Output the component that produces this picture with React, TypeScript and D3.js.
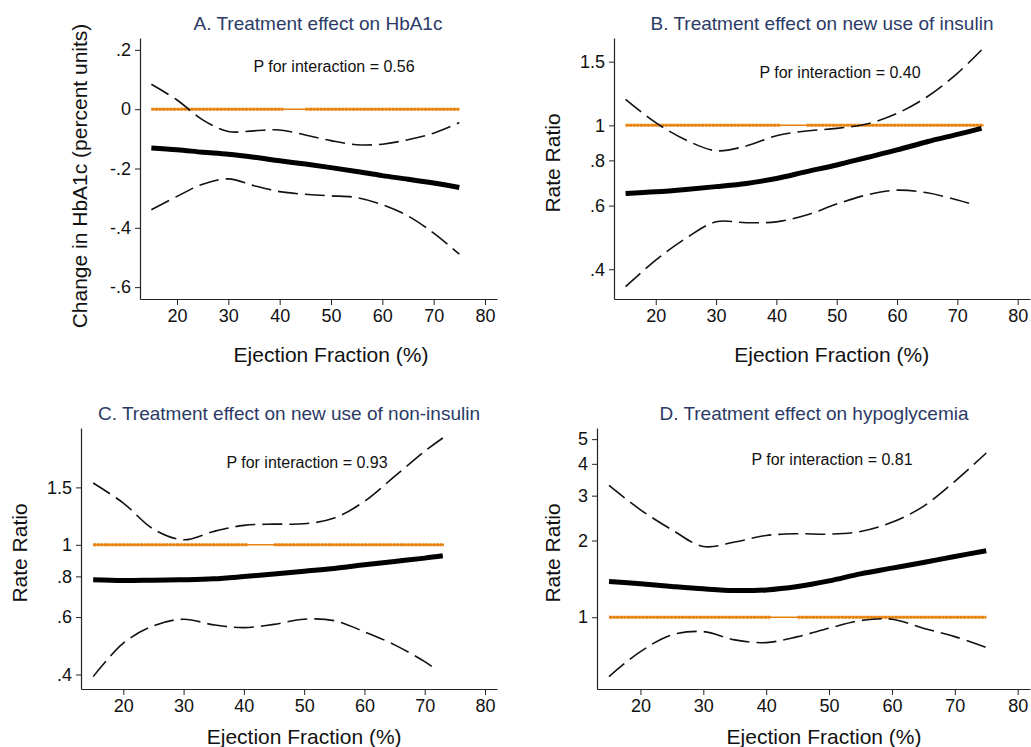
import { useEffect, useRef } from "react";
import * as d3 from "d3";

// ejection fraction grid used for the fitted curves
const efA = [15, 20, 25, 30, 35, 40, 45, 50, 55, 60, 65, 70, 75];
const estA = [-0.131, -0.137, -0.145, -0.152, -0.162, -0.174, -0.185, -0.197, -0.21, -0.224, -0.236, -0.249, -0.264];
const upA = [0.084, 0.031, -0.036, -0.075, -0.073, -0.07, -0.087, -0.106, -0.12, -0.118, -0.103, -0.081, -0.045];
const loA = [-0.339, -0.294, -0.253, -0.235, -0.258, -0.278, -0.287, -0.292, -0.298, -0.322, -0.36, -0.418, -0.489];

const efB = [15, 20, 25, 30, 35, 40, 45, 50, 55, 60, 65, 70, 74];
const efBlo = [15, 20, 25, 30, 35, 40, 45, 50, 55, 60, 65, 70, 73];
const estB = [0.648, 0.655, 0.665, 0.677, 0.691, 0.713, 0.745, 0.777, 0.815, 0.855, 0.901, 0.944, 0.981];
const upB = [1.18, 1.017, 0.911, 0.851, 0.877, 0.936, 0.965, 0.981, 1.009, 1.079, 1.2, 1.393, 1.616];
const loB = [0.358, 0.424, 0.487, 0.541, 0.538, 0.541, 0.565, 0.606, 0.642, 0.662, 0.651, 0.622, 0.602];

const efC = [15, 20, 25, 30, 35, 40, 45, 50, 55, 60, 65, 70, 73];
const efClo = [15, 20, 25, 30, 35, 40, 45, 50, 55, 60, 65, 70, 72];
const estC = [0.781, 0.777, 0.779, 0.781, 0.786, 0.799, 0.814, 0.83, 0.846, 0.868, 0.889, 0.91, 0.925];
const upC = [1.547, 1.343, 1.117, 1.036, 1.099, 1.147, 1.157, 1.16, 1.208, 1.359, 1.621, 1.936, 2.126];
const loC = [0.394, 0.499, 0.564, 0.591, 0.568, 0.557, 0.57, 0.591, 0.585, 0.541, 0.493, 0.438, 0.413];

const efD = [15, 20, 25, 30, 35, 40, 45, 50, 55, 60, 65, 70, 75];
const estD = [1.381, 1.352, 1.32, 1.292, 1.273, 1.28, 1.32, 1.389, 1.48, 1.558, 1.64, 1.731, 1.823];
const upD = [3.29, 2.64, 2.205, 1.896, 1.972, 2.094, 2.126, 2.119, 2.171, 2.357, 2.724, 3.414, 4.41];
const loD = [0.585, 0.733, 0.852, 0.878, 0.815, 0.795, 0.839, 0.905, 0.97, 0.982, 0.905, 0.839, 0.76];

const titles = [
  "A. Treatment effect on HbA1c",
  "B. Treatment effect on new use of insulin",
  "C. Treatment effect on new use of non-insulin",
  "D. Treatment effect on hypoglycemia",
];
const pValues = ["0.56", "0.40", "0.93", "0.81"];
const yTitles = ["Change in HbA1c (percent units)", "Rate Ratio", "Rate Ratio", "Rate Ratio"];
const xTicks = [20, 30, 40, 50, 60, 70, 80];
const yTicksA = [-0.6, -0.4, -0.2, 0, 0.2];
const yTicksRR = [0.4, 0.6, 0.8, 1, 1.5];
const yTicksD = [1, 2, 3, 4, 5];
const refValues = [0, 1, 1, 1];
const refEnd = [75, 74.3, 73.2, 75];
const refGap = [40.7, 45];

const W = 1031;
const H = 747;
const TITLE_COL = "#2b3a66";
const ORANGE = "#e8820c";

const stataFmt = (v: number) => (v === 0 ? "0" : String(v).replace("0.", "."));

export default function App() {
  const ref = useRef<SVGSVGElement>(null);

  useEffect(() => {
    if (!ref.current) return;
    const svg = d3.select(ref.current);
    svg.selectAll("*").remove();

    const panels = [
      { box: [140, 38, 497, 299], xd: [12.79, 82.34], yd: [-0.64, 0.24], log: false, yt: yTicksA,
        ef: [efA, efA, efA], est: estA, up: upA, lo: loA, ytx: 80, yty: 176, ttl: [318, 23], p: [334, 66] },
      { box: [614, 38, 1030, 299], xd: [13.08, 82.04], yd: [0.331, 1.744], log: true, yt: yTicksRR,
        ef: [efB, efB, efBlo], est: estB, up: upB, lo: loB, ytx: 553, yty: 163, ttl: [822, 23], p: [840, 72] },
      { box: [81, 428, 497, 689], xd: [12.98, 81.99], yd: [0.361, 2.282], log: true, yt: yTicksRR,
        ef: [efC, efC, efClo], est: estC, up: upC, lo: loC, ytx: 20, yty: 553, ttl: [289, 413], p: [307, 462] },
      { box: [597, 428, 1030, 689], xd: [13.09, 81.96], yd: [0.5226, 5.53], log: true, yt: yTicksD,
        ef: [efD, efD, efD], est: estD, up: upD, lo: loD, ytx: 553, yty: 553, ttl: [814, 413], p: [832, 459] },
    ];

    panels.forEach((pn, i) => {
      const [x0, y0, x1, y1] = pn.box;
      const x = d3.scaleLinear().domain(pn.xd).range([x0, x1]);
      const y = (pn.log ? d3.scaleLog() : d3.scaleLinear()).domain(pn.yd).range([y1, y0]);
      const g = svg.append("g");

      // axes
      const xa = g.append("g")
        .attr("transform", `translate(0,${y1})`)
        .call(d3.axisBottom(x).tickValues(xTicks).tickSize(6).tickPadding(4).tickSizeOuter(0));
      const ya = g.append("g")
        .attr("transform", `translate(${x0},0)`)
        .call(d3.axisLeft(y as any).tickValues(pn.yt).tickFormat((v: any) => stataFmt(+v)).tickSize(5).tickPadding(4).tickSizeOuter(0));
      [xa, ya].forEach((a) => {
        a.selectAll("text").attr("font-size", 18).attr("font-family", "Liberation Sans, Arial, sans-serif").attr("fill", "#111");
        a.selectAll("line").attr("stroke", "#222");
        a.select(".domain").attr("stroke", "#222").attr("stroke-width", 1.2);
      });

      // reference line at null effect
      const rv = refValues[i];
      g.append("line")
        .attr("x1", x(15)).attr("x2", x(refEnd[i]))
        .attr("y1", y(rv)).attr("y2", y(rv))
        .attr("stroke", ORANGE).attr("stroke-width", 1.5);
      [[15, refGap[0]], [refGap[1], refEnd[i]]].forEach(([a, b]) => {
        g.append("line")
          .attr("x1", x(a)).attr("x2", x(b))
          .attr("y1", y(rv)).attr("y2", y(rv))
          .attr("stroke", ORANGE).attr("stroke-width", 3)
          .attr("stroke-dasharray", "3 0.6");
      });

      const mk = (xs: number[], ys: number[]) =>
        d3.line<number>().x((_, k) => x(xs[k])).y((v) => y(v)).curve(d3.curveCatmullRom.alpha(0.5))(ys);

      // confidence bands
      [[pn.ef[1], pn.up], [pn.ef[2], pn.lo]].forEach(([xs, ys]) => {
        g.append("path")
          .attr("d", mk(xs as number[], ys as number[]))
          .attr("fill", "none").attr("stroke", "#111")
          .attr("stroke-width", 1.6).attr("stroke-dasharray", "20 7");
      });
      // point estimate
      g.append("path")
        .attr("d", mk(pn.ef[0], pn.est))
        .attr("fill", "none").attr("stroke", "#000").attr("stroke-width", 5);

      // texts
      g.append("text")
        .attr("x", pn.ttl[0]).attr("y", pn.ttl[1]).attr("dy", "0.35em")
        .attr("text-anchor", "middle").attr("font-size", 19)
        .attr("font-family", "Liberation Sans, Arial, sans-serif").attr("fill", TITLE_COL)
        .text(titles[i]);
      g.append("text")
        .attr("x", pn.p[0]).attr("y", pn.p[1]).attr("dy", "0.35em")
        .attr("text-anchor", "middle").attr("font-size", 16)
        .attr("font-family", "Liberation Sans, Arial, sans-serif").attr("fill", "#111")
        .text(`P for interaction = ${pValues[i]}`);
      g.append("text")
        .attr("transform", `translate(${pn.ytx},${pn.yty}) rotate(-90)`)
        .attr("dy", "0.35em").attr("text-anchor", "middle").attr("font-size", 21)
        .attr("font-family", "Liberation Sans, Arial, sans-serif").attr("fill", "#111")
        .text(yTitles[i]);
      g.append("text")
        .attr("x", (x(20) + x(80)) / 2 - (i === 1 || i === 3 ? 5 : 0)).attr("y", y1 + 56 - (i >= 2 ? 8 : 0)).attr("dy", "0.35em")
        .attr("text-anchor", "middle").attr("font-size", 21)
        .attr("font-family", "Liberation Sans, Arial, sans-serif").attr("fill", "#111")
        .text("Ejection Fraction (%)");
    });
  }, []);

  return (
    <svg
      ref={ref}
      width={W}
      height={H}
      style={{ position: "absolute", left: 0, top: 0, background: "#fff" }}
    />
  );
}
